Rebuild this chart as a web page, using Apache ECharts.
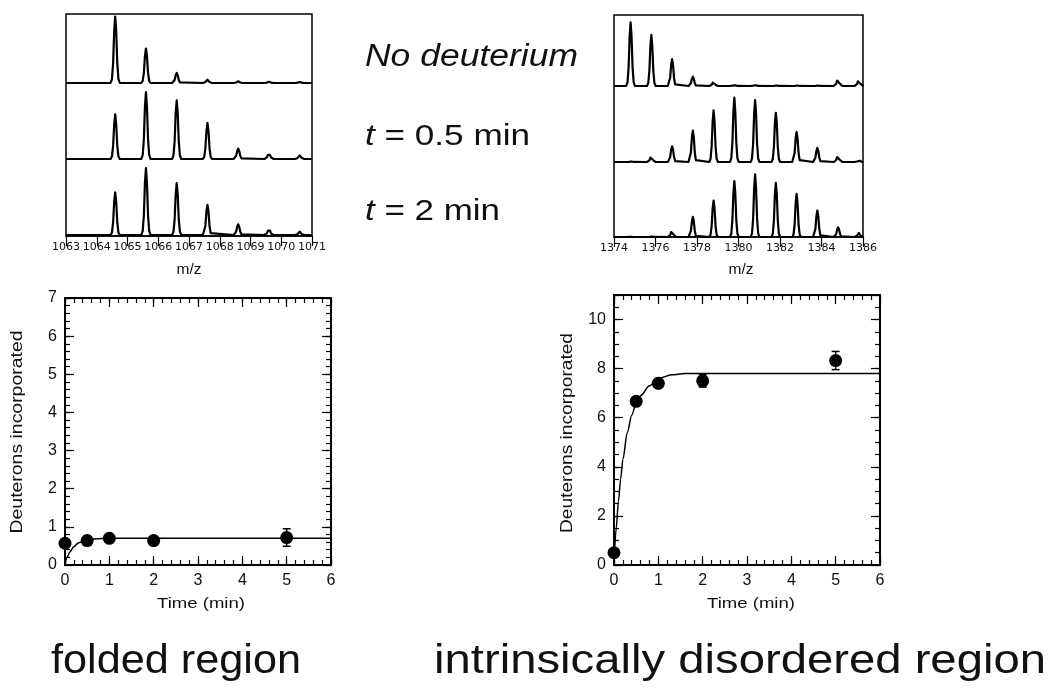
<!DOCTYPE html>
<html><head><meta charset="utf-8">
<script src="https://cdn.jsdelivr.net/npm/echarts@6/dist/echarts.min.js"></script>
<style>html,body{margin:0;padding:0;background:#fff}#c{width:1051px;height:689px}</style>
</head><body><div id="c"></div>
<script>
// ---------------- data ----------------
// Folded region spectra (peak centroid m/z, heights in relative units)
const foldedMz   = [1064.6, 1065.6, 1066.6, 1067.6, 1068.6, 1069.6, 1070.6];
const foldedNoD  = [198, 103, 30, 10, 5, 4, 3];
const folded05   = [133, 200, 175, 108, 31, 16, 11];
const folded2    = [127, 200, 155, 90, 32, 17, 10];
const foldedTicks = [1063, 1071, 1];   // min, max, step
// Intrinsically disordered region spectra
const disMz   = [1374.8, 1375.8, 1376.8, 1377.8, 1378.8, 1379.8, 1380.8, 1381.8, 1382.8, 1383.8, 1384.8, 1385.8];
const disNoD  = [190, 153, 80, 28, 13, 3, 3, 2, 2, 2, 21, 18];
const dis05   = [2, 17, 47, 94, 154, 192, 185, 147, 90, 42, 19, 5];
const dis2    = [1, 2, 19, 60, 109, 167, 187, 162, 129, 79, 29, 12];
const disTicks = [1374, 1386, 2];
// Uptake curves
const timeMin    = [0, 0.5, 1, 2, 5];
const foldedD    = [0.57, 0.64, 0.70, 0.64, 0.72];
const foldedErr  = [0.05, 0.05, 0.05, 0.05, 0.23];
const foldedFitT = [0, 0.05, 0.1, 0.2, 0.3, 0.45, 0.7, 1, 6];
const foldedFitD = [0.02, 0.2, 0.33, 0.48, 0.58, 0.65, 0.69, 0.70, 0.70];
const disD       = [0.5, 6.67, 7.4, 7.5, 8.33];
const disErr     = [0.1, 0.1, 0.12, 0.25, 0.37];
const disFitT    = [0, 0.05, 0.1, 0.15, 0.2, 0.3, 0.4, 0.5, 0.6, 0.8, 1.0, 1.3, 1.6, 6];
const disFitD    = [0.1, 1.5, 2.6, 3.5, 4.3, 5.4, 6.1, 6.6, 6.9, 7.3, 7.6, 7.75, 7.8, 7.8];

// peak profile template (offset in half-widths, fraction of height)
const peakShape = [[-1, 0], [-0.7, 0.06], [-0.45, 0.3], [-0.22, 0.78], [0, 1], [0.22, 0.78], [0.45, 0.3], [0.7, 0.06], [1, 0]];

// ---------------- helpers ----------------
const SANS = '"Liberation Sans", Arial, Helvetica, sans-serif';
const grids = [], xAxes = [], yAxes = [], series = [];
function addGrid(g) { grids.push(g); return grids.length - 1; }
function addX(a) { xAxes.push(a); return xAxes.length - 1; }
function addY(a) { yAxes.push(a); return yAxes.length - 1; }
const hidden = (gi, min, max) => ({ type: 'value', gridIndex: gi, min, max, show: false, splitLine: { show: false } });

function traceData(mz, h, min, max, hw) {
  const d = [[min, 0]];
  mz.forEach((c, i) => { peakShape.forEach(p => d.push([c + p[0] * hw, p[1] * h[i]])); });
  d.push([max, 0]);
  return d;
}

function spectrum(frame, tick, baselines, traces, mz, hw) {
  const [min, max, step] = tick;
  const g = addGrid(Object.assign({ show: true, borderColor: '#000', borderWidth: 1.5 }, frame));
  addX({ type: 'value', gridIndex: g, min, max, interval: step, position: 'bottom',
    axisLine: { show: true, onZero: false, lineStyle: { color: '#000', width: 1.5 } },
    axisTick: { show: true, inside: false, length: 10, lineStyle: { color: '#000', width: 1.2 } },
    axisLabel: { show: true, margin: 6, color: '#111', fontSize: 11, fontFamily: '"DejaVu Sans", sans-serif',
      showMinLabel: true, showMaxLabel: true, hideOverlap: false, formatter: v => String(v) },
    splitLine: { show: false } });
  addY(hidden(g, 0, 1));
  traces.forEach((h, k) => {
    const base = baselines[k];
    const tg = addGrid({ left: frame.left, width: frame.width, top: base - 67, height: 67 });
    const xi = addX(hidden(tg, min, max));
    const yi = addY(hidden(tg, 0, 200));
    series.push({ type: 'line', xAxisIndex: xi, yAxisIndex: yi, data: traceData(mz, h, min, max, hw),
      showSymbol: false, clip: false, lineStyle: { color: '#000', width: 2.2, join: 'round' }, z: 3 });
  });
}

spectrum({ left: 66, top: 14, width: 246, height: 222 }, foldedTicks, [83, 159, 235],
  [foldedNoD, folded05, folded2], foldedMz, 0.15);
spectrum({ left: 614, top: 15, width: 249, height: 222 }, disTicks, [86, 162, 237],
  [disNoD, dis05, dis2], disMz, 0.21);

function axis(gi, pos, min, max, interval, len, label, fmt) {
  return { type: 'value', gridIndex: gi, position: pos, min, max, interval,
    axisLine: { show: true, onZero: false, lineStyle: { color: '#000', width: 1.5 } },
    axisTick: { show: true, inside: true, length: len, lineStyle: { color: '#000', width: 1.2 } },
    axisLabel: { show: label, margin: 8, color: '#111', fontSize: 16, fontFamily: SANS, formatter: fmt },
    splitLine: { show: false } };
}

function uptake(frame, ymax, yMajor, yMinor, D, E, fitT, fitD) {
  const g = addGrid(Object.assign({ show: true, borderColor: '#000', borderWidth: 1.5 }, frame));
  const xi = addX(axis(g, 'bottom', 0, 6, 1, 9, true));
  addX(axis(g, 'bottom', 0, 6, 0.2, 5, false));
  addX(axis(g, 'top', 0, 6, 1, 9, false));
  addX(axis(g, 'top', 0, 6, 0.2, 5, false));
  const fmt = v => (v > ymax - 1e-9 && ymax % yMajor !== 0) ? '' : String(v);
  const yi = addY(axis(g, 'left', 0, ymax, yMajor, 9, true, fmt));
  addY(axis(g, 'left', 0, ymax, yMinor, 5, false));
  addY(axis(g, 'right', 0, ymax, yMajor, 9, false));
  addY(axis(g, 'right', 0, ymax, yMinor, 5, false));
  series.push({ type: 'line', xAxisIndex: xi, yAxisIndex: yi, data: fitT.map((t, i) => [t, fitD[i]]),
    showSymbol: false, smooth: 0.3, smoothMonotone: 'x', clip: true, lineStyle: { color: '#000', width: 1.5 }, z: 2 });
  series.push({ type: 'custom', xAxisIndex: xi, yAxisIndex: yi,
    data: timeMin.map((t, i) => [t, D[i] - E[i], D[i] + E[i]]),
    encode: { x: 0, y: [1, 2] }, z: 3,
    renderItem(params, api) {
      const x = api.value(0);
      const p1 = api.coord([x, api.value(1)]), p2 = api.coord([x, api.value(2)]);
      const w = 4, st = { stroke: '#000', lineWidth: 1.5 };
      return { type: 'group', children: [
        { type: 'line', shape: { x1: p1[0], y1: p1[1], x2: p2[0], y2: p2[1] }, style: st },
        { type: 'line', shape: { x1: p1[0] - w, y1: p1[1], x2: p1[0] + w, y2: p1[1] }, style: st },
        { type: 'line', shape: { x1: p2[0] - w, y1: p2[1], x2: p2[0] + w, y2: p2[1] }, style: st } ] };
    } });
  series.push({ type: 'scatter', xAxisIndex: xi, yAxisIndex: yi, data: timeMin.map((t, i) => [t, D[i]]),
    symbol: 'circle', symbolSize: 13, itemStyle: { color: '#000', opacity: 1 }, z: 4, clip: false });
}

uptake({ left: 65, top: 298, width: 266, height: 267 }, 7, 1, 0.2, foldedD, foldedErr, foldedFitT, foldedFitD);
uptake({ left: 614, top: 295, width: 266, height: 270 }, 11, 2, 0.5, disD, disErr, disFitT, disFitD);

// ---------------- texts ----------------
const ctx = document.createElement('canvas').getContext('2d');
function measure(t, size, style) { ctx.font = (style || 'normal') + ' ' + size + 'px ' + SANS; return ctx.measureText(t).width; }
function label(text, x, y, size, targetW, opt) {
  opt = opt || {};
  let w;
  let style = { text, fontSize: size, fontFamily: SANS, fontStyle: opt.italic ? 'italic' : 'normal', fill: '#111',
    textAlign: opt.align || 'center', align: opt.align || 'center', textVerticalAlign: 'middle', verticalAlign: 'middle' };
  if (opt.rich) {
    w = measure(opt.richParts[0], size, 'italic') + measure(opt.richParts[1], size);
    style.text = '{i|' + opt.richParts[0] + '}' + opt.richParts[1];
    style.rich = { i: { fontStyle: 'italic', fontSize: size, fontFamily: SANS, fill: '#111' } };
  } else {
    w = measure(text, size, opt.italic ? 'italic' : 'normal');
  }
  return { type: 'text', x, y, rotation: opt.rot || 0, scaleX: targetW / w, scaleY: 1, style, z: 10 };
}
const graphics = [
  label('No deuterium', 365, 57, 31, 213, { italic: true, align: 'left' }),
  label('', 365, 137, 30, 165, { align: 'left', rich: true, richParts: ['t', ' = 0.5 min'] }),
  label('', 365, 212, 30, 135, { align: 'left', rich: true, richParts: ['t', ' = 2 min'] }),
  label('m/z', 189, 270, 15, 25),
  label('m/z', 741, 270, 15, 25),
  label('Time (min)', 201, 604, 15, 88),
  label('Time (min)', 751, 604, 15, 88),
  label('Deuterons incorporated', 18, 432, 16, 203, { rot: Math.PI / 2 }),
  label('Deuterons incorporated', 568, 433, 16, 200, { rot: Math.PI / 2 }),
  label('folded region', 51, 662, 41, 250, { align: 'left' }),
  label('intrinsically disordered region', 434, 662, 41, 612, { align: 'left' })
];

const chart = echarts.init(document.getElementById('c'), null, { renderer: 'canvas' });
chart.setOption({
  animation: false,
  backgroundColor: '#fff',
  grid: grids, xAxis: xAxes, yAxis: yAxes, series,
  graphic: { elements: graphics }
});
</script></body></html>
